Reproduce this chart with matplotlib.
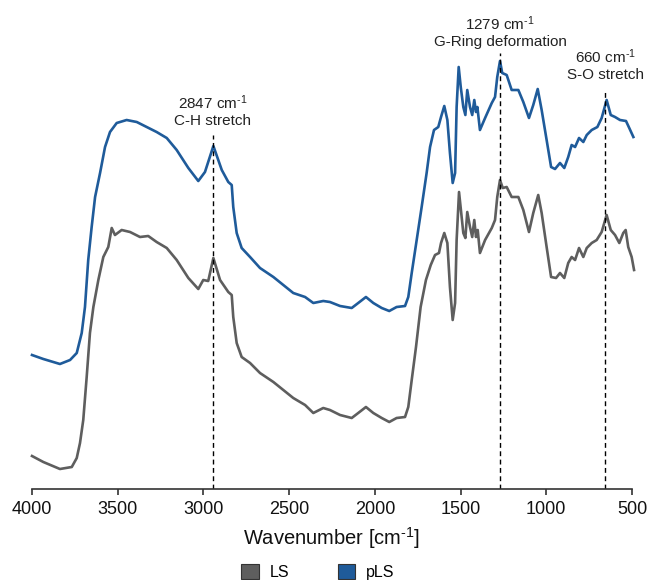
import numpy as np
import matplotlib
matplotlib.use("Agg")
import matplotlib.pyplot as plt
from matplotlib.patches import Patch

plt.rcParams['font.family'] = ['Liberation Sans', 'DejaVu Sans']
plt.rcParams['mathtext.default'] = 'regular'

# pLS spectrum (wavenumber, signal in arbitrary units)
wn_pls = [4000, 3934, 3837, 3778, 3739, 3710, 3691, 3672, 3652, 3632, 3603, 3574, 3545, 3506,
          3448, 3389, 3331, 3273, 3214, 3156, 3088, 3030, 2991, 2942, 2893, 2855, 2835, 2826,
          2806, 2777, 2728, 2670, 2592, 2534, 2476, 2407, 2359, 2301, 2262, 2203, 2135, 2097,
          2052, 2009, 1960, 1916, 1873, 1824, 1805, 1785, 1756, 1727, 1698, 1678, 1655, 1630,
          1614, 1595, 1577, 1562, 1546, 1532, 1523, 1511, 1499, 1484, 1472, 1461, 1445, 1432,
          1420, 1410, 1402, 1387, 1357, 1318, 1299, 1286, 1270, 1257, 1231, 1202, 1163, 1134,
          1101, 1076, 1050, 1027, 998, 972, 949, 920, 895, 872, 852, 832, 809, 784, 764, 735,
          702, 677, 648, 624, 599, 570, 535, 516, 492]
pls = [134, 130, 125, 129, 136, 156, 182, 229, 262, 292, 316, 342, 357, 366,
       369, 367, 362, 357, 351, 339, 321, 308, 317, 343, 319, 307, 304, 282,
       256, 241, 232, 221, 212, 204, 196, 192, 186, 188, 187, 183, 181, 186,
       192, 186, 181, 178, 182, 183, 192, 216, 249, 282, 316, 342, 359, 362,
       372, 383, 369, 336, 306, 316, 382, 422, 402, 382, 374, 399, 382, 374,
       389, 377, 382, 359, 371, 386, 392, 412, 428, 416, 414, 399, 399, 387,
       371, 384, 400, 379, 349, 322, 320, 326, 321, 332, 344, 342, 351, 347, 354, 359,
       362, 371, 389, 374, 372, 369, 368, 361, 352]

# LS spectrum
wn_ls = [4000, 3934, 3837, 3768, 3739, 3720, 3701, 3681, 3662, 3642, 3613, 3584, 3555, 3535,
         3516, 3477, 3428, 3370, 3322, 3273, 3214, 3156, 3088, 3030, 3001, 2972, 2942, 2903,
         2855, 2835, 2826, 2806, 2777, 2728, 2670, 2592, 2534, 2476, 2407, 2359, 2301, 2262,
         2203, 2135, 2097, 2052, 2009, 1960, 1916, 1873, 1824, 1805, 1785, 1760, 1733, 1702,
         1674, 1649, 1626, 1614, 1595, 1577, 1562, 1546, 1532, 1523, 1509, 1498, 1484, 1472,
         1461, 1445, 1432, 1420, 1410, 1400, 1387, 1357, 1318, 1299, 1286, 1270, 1254, 1231,
         1202, 1163, 1134, 1101, 1076, 1047, 1027, 998, 972, 943, 920, 895, 872, 852, 832,
         809, 784, 764, 735, 706, 677, 648, 624, 599, 574, 551, 537, 522, 502, 488]
ls = [33, 27, 20, 22, 31, 46, 69, 112, 156, 182, 209, 232, 242, 261,
      254, 259, 257, 252, 253, 247, 241, 229, 211, 200, 209, 208, 231, 209,
      197, 194, 172, 146, 132, 126, 116, 107, 99, 91, 84, 76, 81, 79,
      74, 71, 76, 82, 76, 71, 67, 71, 72, 82, 109, 142, 182, 209,
      224, 234, 236, 246, 256, 246, 202, 169, 186, 249, 297, 279, 256, 251,
      277, 262, 252, 269, 252, 259, 236, 249, 261, 269, 292, 309, 301, 302,
      292, 292, 279, 257, 276, 294, 276, 242, 212, 211, 216, 211, 226, 232, 229,
      241, 232, 241, 246, 249, 257, 274, 259, 254, 246, 256, 259, 242, 232, 219]

# marked bands: line position, label, top of dashed line
band_pos = [2945, 1270, 657]
band_labels = ["2847 cm$^{\u2010 1}$\nC-H stretch",
               "1279 cm$^{\u2010 1}$\nG-Ring deformation",
               "660 cm$^{\u2010 1}$\nS-O stretch"]
band_top = [354, 436, 399]
label_y = [378, 457, 424]

ticks = [4000, 3500, 3000, 2500, 2000, 1500, 1000, 500]

c_ls = '#5e5e5e'
c_pls = '#1f5b9a'

fig = plt.figure(figsize=(6.49, 5.80), dpi=100)
ax = fig.add_axes([32 / 649, 91 / 580, 600 / 649, 489 / 580])

ax.plot(wn_ls, ls, color=c_ls, lw=1.9, clip_on=False, solid_joinstyle='round')
ax.plot(wn_pls, pls, color=c_pls, lw=1.9, clip_on=False, solid_joinstyle='round')

for x, txt, top, ty in zip(band_pos, band_labels, band_top, label_y):
    ax.plot([x, x], [0, top], color='black', lw=1.0, ls=(0, (3.5, 2.5)))
    ax.text(x, ty, txt, ha='center', va='center', fontsize=11,
            color='#222222', linespacing=1.15)

ax.set_xlim(4000, 500)
ax.set_ylim(0, 489)
ax.set_xticks(ticks)
ax.set_xticklabels([str(t) for t in ticks])
ax.set_yticks([])
for s in ['top', 'right', 'left']:
    ax.spines[s].set_visible(False)
ax.spines['bottom'].set_color('#333333')
ax.spines['bottom'].set_linewidth(1.2)
ax.tick_params(axis='x', direction='out', length=4, width=1.2, color='#333333',
               labelsize=13, pad=5, labelcolor='#111111')
ax.set_xlabel("Wavenumber [cm$^{\u2010 1}$]", fontsize=14.5, labelpad=5, color='#111111')

handles = [Patch(facecolor=c_ls, edgecolor='#333333', lw=0.8, label='LS'),
           Patch(facecolor=c_pls, edgecolor='#333333', lw=0.8, label='pLS')]
fig.legend(handles=handles, loc='center', bbox_to_anchor=(318 / 649, 8 / 580), ncol=2,
           frameon=False, fontsize=11.5, handlelength=1.1, handleheight=1.1,
           handletextpad=0.7, columnspacing=3.0)

fig.savefig("out.png", dpi=100)
